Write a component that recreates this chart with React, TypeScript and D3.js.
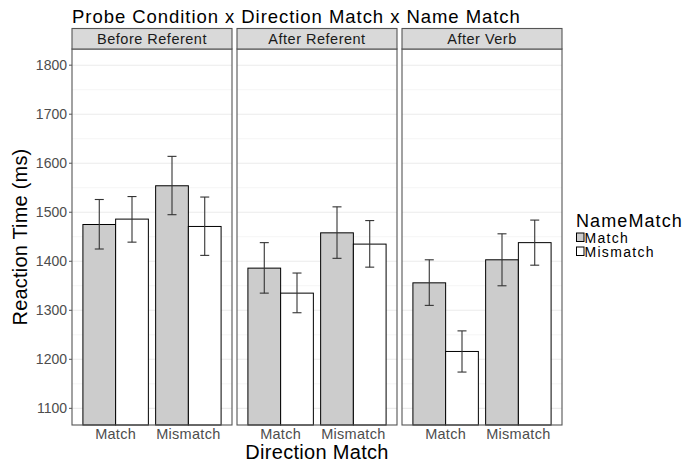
import React from 'react';
import * as d3 from 'd3';

const WIDTH = 689;
const HEIGHT = 464;
const MARGIN = { top: 49, right: 127, bottom: 39, left: 72 };
const FONT = "'Liberation Sans', Arial, Helvetica, sans-serif";

const PANELS = ["Before Referent", "After Referent", "After Verb"];
const DIRECTION = ["Match", "Mismatch"];
const NAME_MATCH = ["Match", "Mismatch"];
const FILLS = ["#cccccc", "#ffffff"];
const Y_TICKS = [1100, 1200, 1300, 1400, 1500, 1600, 1700, 1800];
const Y_MINOR = [1150, 1250, 1350, 1450, 1550, 1650, 1750];

// means, per panel: [dir Match/name Match, dir Match/name Mismatch, dir Mismatch/name Match, dir Mismatch/name Mismatch]
const MEANS = [
    [1475, 1486, 1554, 1471],
    [1386, 1335, 1458, 1435],
    [1356, 1216, 1403, 1438],
];
const LOWER = [
    [1425, 1439, 1495, 1412],
    [1335, 1295, 1406, 1388],
    [1310, 1174, 1350, 1392],
];
const UPPER = [
    [1526, 1532, 1614, 1531],
    [1438, 1376, 1511, 1483],
    [1403, 1258, 1456, 1484],
];

export default function App() {
    const plotBottom = HEIGHT - MARGIN.bottom; // 425
    const stripTop = 28.5;

    const panel = d3.scaleBand()
        .domain(PANELS)
        .range([MARGIN.left, 562])
        .paddingInner(5 / 165);
    const pw = panel.bandwidth();

    const x = d3.scaleBand()
        .domain(DIRECTION)
        .range([0, pw])
        .paddingInner(0.1)
        .paddingOuter(0.15);

    const xi = d3.scaleBand()
        .domain(NAME_MATCH)
        .range([0, x.bandwidth()]);

    const y = d3.scaleLinear()
        .domain([1066, 1833])
        .range([plotBottom, MARGIN.top]);

    return (
        <svg width={WIDTH} height={HEIGHT} style={{ position: "absolute", left: 0, top: 0, fontFamily: FONT }}>
            <rect width={WIDTH} height={HEIGHT} fill="#fff" />
            <text x={MARGIN.left} y={22.5} fontSize={18.5} letterSpacing={0.95} fill="#000">Probe Condition x Direction Match x Name Match</text>

            {PANELS.map((p, pi) => {
                const px = panel(p);
                return (
                    <g key={p} transform={`translate(${px},0)`}>
                        {Y_MINOR.map(t => (
                            <line key={t} x1={0} x2={pw} y1={y(t)} y2={y(t)} stroke="#f5f5f5" strokeWidth={1} />
                        ))}
                        {Y_TICKS.map(t => (
                            <line key={t} x1={0} x2={pw} y1={y(t)} y2={y(t)} stroke="#ebebeb" strokeWidth={1.1} />
                        ))}
                        {DIRECTION.map((d, di) => NAME_MATCH.map((n, ni) => {
                            const k = di * 2 + ni;
                            const bx = x(d) + xi(n);
                            const cx = bx + xi.bandwidth() / 2;
                            return (
                                <g key={d + n}>
                                    <rect x={bx} y={y(MEANS[pi][k])} width={xi.bandwidth()} height={plotBottom - y(MEANS[pi][k])}
                                        fill={FILLS[ni]} stroke="#000" strokeWidth={1} />
                                    <line x1={cx} x2={cx} y1={y(UPPER[pi][k])} y2={y(LOWER[pi][k])} stroke="#333" strokeWidth={1.1} />
                                    <line x1={cx - 4.5} x2={cx + 4.5} y1={y(UPPER[pi][k])} y2={y(UPPER[pi][k])} stroke="#333" strokeWidth={1.1} />
                                    <line x1={cx - 4.5} x2={cx + 4.5} y1={y(LOWER[pi][k])} y2={y(LOWER[pi][k])} stroke="#333" strokeWidth={1.1} />
                                </g>
                            );
                        }))}
                        <rect x={0} y={MARGIN.top} width={pw} height={plotBottom - MARGIN.top} fill="none" stroke="#555" strokeWidth={1.1} />
                        <rect x={0} y={stripTop} width={pw} height={MARGIN.top - stripTop} fill="#d9d9d9" stroke="#555" strokeWidth={1.1} />
                        <text x={pw / 2} y={MARGIN.top - 5} textAnchor="middle" fontSize={14.5} letterSpacing={0.5} fill="#1a1a1a">{p}</text>
                        {DIRECTION.map(d => (
                            <text key={d} x={x(d) + x.bandwidth() / 2} y={plotBottom + 14} textAnchor="middle" fontSize={14.5} letterSpacing={0.3} fill="#4d4d4d">{d}</text>
                        ))}
                    </g>
                );
            })}

            {Y_TICKS.map(t => (
                <g key={t}>
                    <line x1={MARGIN.left - 3} x2={MARGIN.left} y1={y(t)} y2={y(t)} stroke="#555" strokeWidth={1} />
                    <text x={MARGIN.left - 5} y={y(t) + 5} textAnchor="end" fontSize={14} fill="#4d4d4d">{t}</text>
                </g>
            ))}

            <text transform={`translate(27,${(MARGIN.top + plotBottom) / 2}) rotate(-90)`} textAnchor="middle" fontSize={20} letterSpacing={0.2} fill="#000">Reaction Time (ms)</text>
            <text x={(MARGIN.left + 562) / 2} y={459} textAnchor="middle" fontSize={20} letterSpacing={0.3} fill="#000">Direction Match</text>

            <g transform="translate(576,0)">
                <text x={0} y={226.5} fontSize={18} letterSpacing={1.1} fill="#000">NameMatch</text>
                {NAME_MATCH.map((n, i) => (
                    <g key={n}>
                        <rect x={0.5} y={233 + i * 14} width={7.5} height={8.5} fill={FILLS[i]} stroke="#000" strokeWidth={1} />
                        <text x={8.5} y={243 + i * 14} fontSize={14} letterSpacing={1.3} fill="#000">{n}</text>
                    </g>
                ))}
            </g>
        </svg>
    );
}
